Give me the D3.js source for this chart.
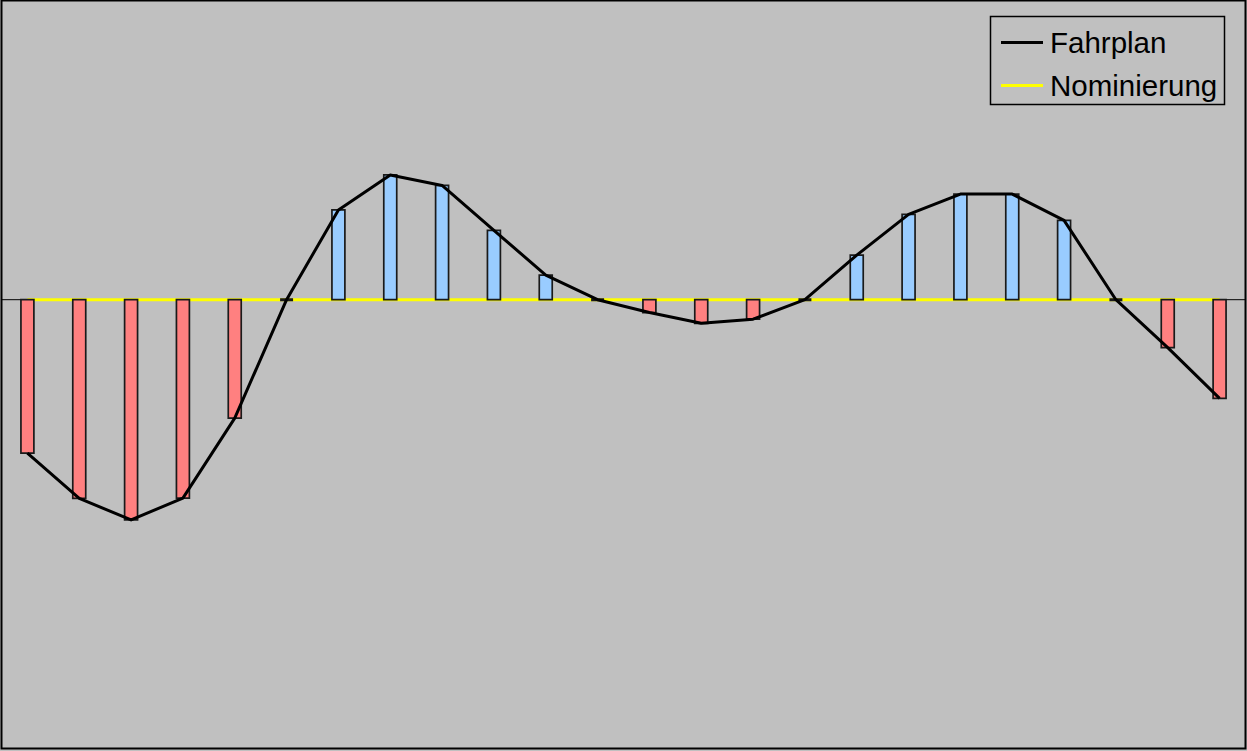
<!DOCTYPE html>
<html>
<head>
<meta charset="utf-8">
<script src="https://cdn.jsdelivr.net/npm/d3@7"></script>
<style>
  html, body { margin: 0; padding: 0; background: #C0C0C0; }
  svg { display: block; }
</style>
</head>
<body>
<script>
// Hourly slots, schedule values (Fahrplan) and nomination (Nominierung)
const hours = d3.range(1, 25).map(String);
const fahrplan = [-0.513, -0.664, -0.736, -0.663, -0.396, 0,
                  0.300, 0.417, 0.382, 0.232, 0.082, 0,
                  -0.043, -0.079, -0.065, 0,
                  0.149, 0.285, 0.353, 0.353, 0.265, 0,
                  -0.160, -0.330];
const nominierung = hours.map(() => 0);
const yDomain = [-1.5, 1.0];
const legendLabels = ["Fahrplan", "Nominierung"];

const W = 1247, H = 751;
const plot = { left: 1.5, right: 1245.5, top: 0.5, bottom: 748.5 };

const svg = d3.select("body").append("svg").attr("width", W).attr("height", H);

svg.append("rect").attr("width", W).attr("height", H).attr("fill", "#C0C0C0");

const x = d3.scaleBand().domain(hours).range([plot.left, plot.right]).padding(0);
const y = d3.scaleLinear().domain(yDomain).range([plot.bottom, plot.top]);
const cx = h => x(h) + x.bandwidth() / 2;
const barW = x.bandwidth() * 0.25;

// plot area frame
svg.append("rect")
  .attr("x", plot.left).attr("y", plot.top)
  .attr("width", plot.right - plot.left).attr("height", plot.bottom - plot.top)
  .attr("fill", "#C0C0C0").attr("stroke", "#000").attr("stroke-width", 2);

// category axis along zero
svg.append("line")
  .attr("x1", plot.left).attr("x2", plot.right)
  .attr("y1", y(0)).attr("y2", y(0))
  .attr("stroke", "#000").attr("stroke-width", 1);

// nomination line
svg.append("path")
  .datum(nominierung)
  .attr("fill", "none").attr("stroke", "#FFFF00").attr("stroke-width", 3)
  .attr("d", d3.line().x((d, i) => cx(hours[i])).y(d => y(d)));

// deviation bars
svg.append("g").selectAll("path")
  .data(fahrplan)
  .join("path")
  .attr("d", (d, i) => {
    const x0 = cx(hours[i]) - barW / 2, y0 = y(0), y1 = y(d);
    return `M${x0},${y0}H${x0 + barW}V${y1}H${x0}Z`;
  })
  .attr("fill", d => d >= 0 ? "#99CCFF" : "#FF8080")
  .attr("stroke", "#1a1a1a")
  .attr("stroke-width", d => d === 0 ? 3 : 1.7);

// schedule line
svg.append("path")
  .datum(fahrplan)
  .attr("fill", "none").attr("stroke", "#000").attr("stroke-width", 3)
  .attr("stroke-linejoin", "round")
  .attr("d", d3.line().x((d, i) => cx(hours[i])).y(d => y(d)));

// legend
const lg = svg.append("g");
lg.append("rect")
  .attr("x", 990.5).attr("y", 16.5).attr("width", 234).attr("height", 88)
  .attr("fill", "#C0C0C0").attr("stroke", "#000").attr("stroke-width", 1.5);
const legendColors = ["#000", "#FFFF00"];
legendLabels.forEach((lab, i) => {
  const ly = 42.5 + i * 43;
  lg.append("line")
    .attr("x1", 1001).attr("x2", 1043).attr("y1", ly).attr("y2", ly)
    .attr("stroke", legendColors[i]).attr("stroke-width", 3);
  lg.append("text")
    .attr("x", 1050).attr("y", ly + 10)
    .attr("font-family", "Liberation Sans, Arial, sans-serif")
    .attr("font-size", 29.5).attr("fill", "#000")
    .text(lab);
});
</script>
</body>
</html>
